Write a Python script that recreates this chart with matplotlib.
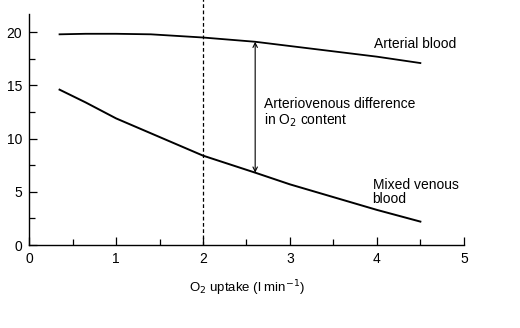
import numpy as np
import matplotlib.pyplot as plt
from matplotlib.ticker import MultipleLocator

plt.rcParams['font.family'] = ['Liberation Sans', 'DejaVu Sans']

# O2 content
uptake = [0.35, 0.65, 1.0, 1.4, 2.0, 2.6, 3.0, 3.5, 4.0, 4.5]
arterial = [19.8, 19.85, 19.85, 19.8, 19.5, 19.1, 18.7, 18.2, 17.7, 17.1]
venous = [14.6, 13.4, 11.9, 10.5, 8.4, 6.8, 5.7, 4.5, 3.3, 2.2]

marker_x = 2.0
arrow_x = 2.6
arrow_top = 19.1
arrow_bottom = 6.8

fig = plt.figure(figsize=(5.2, 3.28), dpi=100)
ax = fig.add_axes([0.056, 0.253, 0.836, 0.704])

ax.plot(uptake, arterial, color='black', lw=1.3)
ax.plot(uptake, venous, color='black', lw=1.4)

# dashed line at 2 l/min, runs off the top of the axes
ax.plot([marker_x, marker_x], [0, 24], color='black', lw=0.9,
        ls=(0, (3, 2)), clip_on=False)

ax.annotate('', xy=(arrow_x, arrow_top), xytext=(arrow_x, arrow_bottom),
            arrowprops=dict(arrowstyle='<->', color='black', lw=0.8,
                            shrinkA=0, shrinkB=0, mutation_scale=8))

ax.text(3.97, 18.85, 'Arterial blood', fontsize=10, va='center')
ax.text(2.7, 12.4, 'Arteriovenous difference\nin O$_2$ content',
        fontsize=10, va='center', linespacing=1.05)
ax.text(3.95, 5.0, 'Mixed venous\nblood', fontsize=10, va='center',
        linespacing=1.05)

ax.set_xlim(0, 5)
ax.set_ylim(0, 21.7)
ax.spines['top'].set_visible(False)
ax.spines['right'].set_visible(False)
for s in ('left', 'bottom'):
    ax.spines[s].set_linewidth(1.0)

ax.set_xticks([0, 1, 2, 3, 4, 5])
ax.set_yticks([0, 5, 10, 15, 20])
ax.xaxis.set_minor_locator(MultipleLocator(0.5))
ax.yaxis.set_minor_locator(MultipleLocator(2.5))
ax.tick_params(which='major', direction='in', length=6, width=0.9,
               labelsize=10, pad=5)
ax.tick_params(which='minor', direction='in', length=4, width=0.9)
ax.tick_params(axis='y', pad=5)

ax.set_xlabel('O$_2$ uptake (l min$^{-1}$)', fontsize=9.5, labelpad=9)

fig.savefig('out.png', dpi=100)
